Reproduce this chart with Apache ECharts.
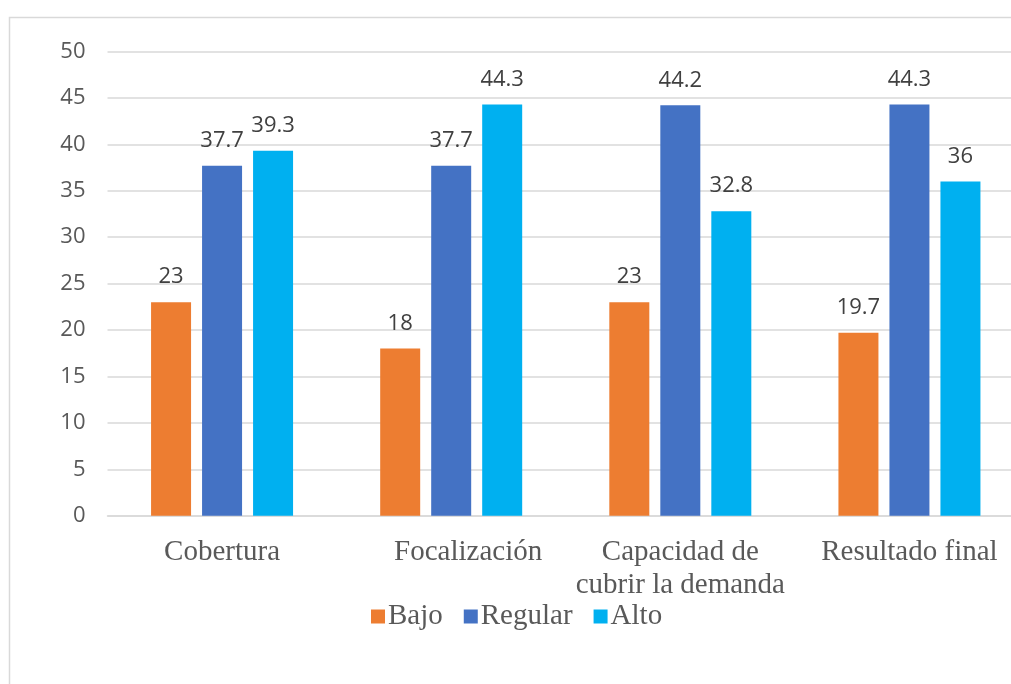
<!DOCTYPE html>
<html>
<head>
<meta charset="utf-8">
<script src="https://cdn.jsdelivr.net/npm/echarts@6/dist/echarts.min.js"></script>
<style>
html,body{margin:0;padding:0;background:#fff;overflow:hidden;}
#chart{width:1024px;height:684px;}
</style>
</head>
<body>
<div id="chart"></div>
<script>
var categories = ['Cobertura', 'Focalización', 'Capacidad de\ncubrir la demanda', 'Resultado final'];
var seriesNames = ['Bajo', 'Regular', 'Alto'];
var bajo = [23, 18, 23, 19.7];
var regular = [37.7, 37.7, 44.2, 44.3];
var alto = [39.3, 44.3, 32.8, 36];
var yTicks = {min: 0, max: 50, interval: 5};

var colors = ['#ED7D31', '#4472C4', '#00B0F0'];
var chart = echarts.init(document.getElementById('chart'));

function mkSeries(name, data, color) {
  return {
    name: name,
    type: 'bar',
    data: data,
    barWidth: 40,
    barGap: '27.5%',
    barCategoryGap: '38%',
    itemStyle: {color: color},
    label: {
      show: true,
      position: 'top',
      distance: 14,
      color: '#404040',
      fontFamily: 'Open Sans',
      fontSize: 22
    }
  };
}

chart.setOption({
  animation: false,
  backgroundColor: '#ffffff',
  graphic: [{
    type: 'rect',
    shape: {x: 9.5, y: 17.5, width: 1200, height: 1000},
    style: {fill: 'none', stroke: '#d9d9d9', lineWidth: 1.5},
    silent: true,
    z: -10
  }],
  legend: {
    data: seriesNames,
    left: 366,
    top: 596,
    itemWidth: 14,
    itemHeight: 14,
    itemGap: 21,
    icon: 'rect',
    textStyle: {
      fontFamily: 'Liberation Serif',
      fontSize: 29,
      color: '#595959',
      lineHeight: 31,
      padding: [0, 0, 0, -2]
    }
  },
  grid: {
    left: 107.5,
    right: 0,
    top: 51.5,
    bottom: 168.3,
    containLabel: false
  },
  xAxis: {
    type: 'category',
    data: categories,
    axisTick: {show: false},
    axisLine: {show: true, lineStyle: {color: '#d9d9d9', width: 1.5}},
    axisLabel: {
      interval: 0,
      margin: 20,
      color: '#595959',
      fontFamily: 'Liberation Serif',
      fontSize: 29,
      lineHeight: 33,
      formatter: function (v, i) {
        if (i === 1) return '{s|' + v + '}';
        return v;
      },
      rich: {
        s: {
          fontFamily: 'Liberation Serif',
          fontSize: 29,
          color: '#595959',
          lineHeight: 33,
          padding: [0, 0, 0, 34]
        }
      }
    }
  },
  yAxis: {
    type: 'value',
    min: yTicks.min,
    max: yTicks.max,
    interval: yTicks.interval,
    axisLine: {show: false},
    axisTick: {show: false},
    splitLine: {lineStyle: {color: '#d9d9d9', width: 1.5}},
    axisLabel: {
      margin: 22,
      color: '#595959',
      fontFamily: 'Open Sans',
      fontSize: 22
    }
  },
  series: [
    mkSeries(seriesNames[0], bajo, colors[0]),
    mkSeries(seriesNames[1], regular, colors[1]),
    mkSeries(seriesNames[2], alto, colors[2])
  ]
});
</script>
</body>
</html>
